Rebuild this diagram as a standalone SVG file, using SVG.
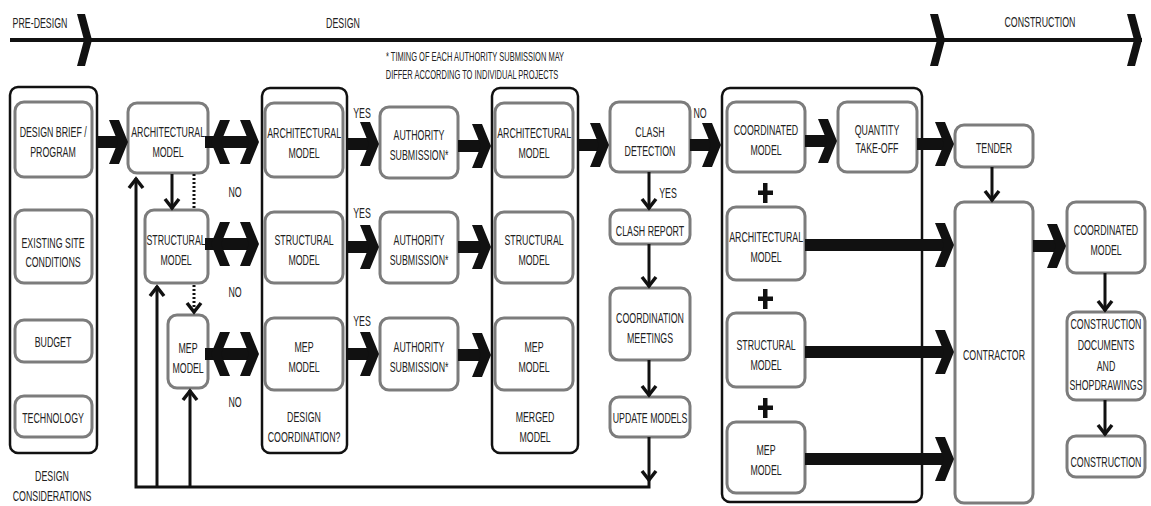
<svg xmlns="http://www.w3.org/2000/svg" xmlns:xlink="http://www.w3.org/1999/xlink" width="1151" height="506" viewBox="0 0 1151 506">
  <style>
    .t{font-family:"Liberation Sans",Arial,sans-serif;font-size:14px;fill:#222;text-anchor:middle;transform-box:fill-box;transform-origin:center;transform:scaleX(0.63)}
    .s{font-size:12.5px;transform:scaleX(0.6)}
    .nb{fill:#fff;stroke:#7c7c7c;stroke-width:3}
    .gb{fill:none;stroke:#111;stroke-width:2.5}
    .thin{fill:none;stroke:#111;stroke-width:3;marker-end:url(#ah)}
    .dot{fill:none;stroke:#111;stroke-width:3;stroke-dasharray:2 2}
    .sh{fill:#111}
  </style>
  <defs>
    <!-- heavy chevron head, tip at the origin, pointing right -->
    <path id="hd" d="M-19,-22 L-9,-22 L0,0 L-9,22 L-19,22 L-10,0 Z" fill="#111"/>
    <!-- chevron used on the phase timeline -->
    <path id="ph" d="M-14,-26 L-6,-26 L1,0 L-6,26 L-14,26 L-7,0 Z" fill="#111"/>
    <marker id="ah" markerUnits="userSpaceOnUse" viewBox="-13 -9 15 18" markerWidth="15" markerHeight="18" refX="0" refY="0" orient="auto">
      <path d="M-10,-7 L-1,0 L-10,7" fill="none" stroke="#111" stroke-width="3.5"/>
    </marker>
  </defs>

  <!-- phase timeline -->
  <g id="timeline">
    <line x1="10" y1="40" x2="1142" y2="40" stroke="#111" stroke-width="4"/>
    <use xlink:href="#ph" x="91" y="40"/>
    <use xlink:href="#ph" x="944" y="40"/>
    <use xlink:href="#ph" x="1141" y="40"/>
    <text class="t" x="40" y="28">PRE-DESIGN</text>
    <text class="t" x="343" y="28">DESIGN</text>
    <text class="t" x="1040" y="27">CONSTRUCTION</text>
    <text class="t s" x="475" y="61">* TIMING OF EACH AUTHORITY SUBMISSION MAY</text>
    <text class="t s" x="472" y="79">DIFFER ACCORDING TO INDIVIDUAL PROJECTS</text>
  </g>

  <!-- group frames -->
  <g id="design-considerations">
    <rect class="gb" x="10" y="87" width="87" height="366" rx="8"/>
    <text class="t" x="52" y="481">DESIGN</text>
    <text class="t" x="52" y="501">CONSIDERATIONS</text>
  </g>
  <g id="design-coordination">
    <rect class="gb" x="262" y="88" width="85" height="365" rx="8"/>
    <text class="t" x="304" y="422">DESIGN</text>
    <text class="t" x="304" y="442">COORDINATION?</text>
  </g>
  <g id="merged-model">
    <rect class="gb" x="492" y="88" width="86" height="365" rx="8"/>
    <text class="t" x="535" y="422">MERGED</text>
    <text class="t" x="535" y="442">MODEL</text>
  </g>
  <g id="coordinated-set">
    <rect class="gb" x="722" y="88" width="200" height="414" rx="8"/>
  </g>

  <!-- design considerations -->
  <g id="design-brief">
    <rect class="nb" x="15" y="102" width="77" height="75" rx="9"/>
    <text class="t" x="53" y="137">DESIGN BRIEF /</text>
    <text class="t" x="53" y="157">PROGRAM</text>
  </g>
  <g id="existing-site">
    <rect class="nb" x="15" y="210" width="77" height="73" rx="9"/>
    <text class="t" x="53" y="248">EXISTING SITE</text>
    <text class="t" x="53" y="267">CONDITIONS</text>
  </g>
  <g id="budget">
    <rect class="nb" x="15" y="320" width="77" height="42" rx="9"/>
    <text class="t" x="53" y="347">BUDGET</text>
  </g>
  <g id="technology">
    <rect class="nb" x="15" y="396" width="77" height="41" rx="9"/>
    <text class="t" x="53" y="423">TECHNOLOGY</text>
  </g>

  <!-- discipline models -->
  <g id="architectural-model">
    <rect class="nb" x="128" y="103" width="80" height="70" rx="9"/>
    <text class="t" x="168" y="137">ARCHITECTURAL</text>
    <text class="t" x="168" y="157">MODEL</text>
  </g>
  <g id="structural-model">
    <rect class="nb" x="145" y="210" width="63" height="73" rx="9"/>
    <text class="t" x="176" y="245">STRUCTURAL</text>
    <text class="t" x="176" y="265">MODEL</text>
  </g>
  <g id="mep-model">
    <rect class="nb" x="168" y="315" width="40" height="73" rx="9"/>
    <text class="t" x="188" y="353">MEP</text>
    <text class="t" x="188" y="373">MODEL</text>
  </g>

  <!-- design coordination -->
  <g id="dc-architectural">
    <rect class="nb" x="265" y="103" width="78" height="74" rx="9"/>
    <text class="t" x="304" y="138">ARCHITECTURAL</text>
    <text class="t" x="304" y="158">MODEL</text>
  </g>
  <g id="dc-structural">
    <rect class="nb" x="265" y="212" width="78" height="71" rx="9"/>
    <text class="t" x="304" y="245">STRUCTURAL</text>
    <text class="t" x="304" y="265">MODEL</text>
  </g>
  <g id="dc-mep">
    <rect class="nb" x="265" y="318" width="78" height="72" rx="9"/>
    <text class="t" x="304" y="352">MEP</text>
    <text class="t" x="304" y="372">MODEL</text>
  </g>

  <!-- authority submissions -->
  <g id="authority-1">
    <rect class="nb" x="380" y="107" width="78" height="71" rx="9"/>
    <text class="t" x="419" y="140">AUTHORITY</text>
    <text class="t" x="419" y="160">SUBMISSION*</text>
  </g>
  <g id="authority-2">
    <rect class="nb" x="380" y="212" width="78" height="71" rx="9"/>
    <text class="t" x="419" y="245">AUTHORITY</text>
    <text class="t" x="419" y="265">SUBMISSION*</text>
  </g>
  <g id="authority-3">
    <rect class="nb" x="380" y="318" width="78" height="72" rx="9"/>
    <text class="t" x="419" y="352">AUTHORITY</text>
    <text class="t" x="419" y="372">SUBMISSION*</text>
  </g>

  <!-- merged model -->
  <g id="mm-architectural">
    <rect class="nb" x="495" y="103" width="78" height="74" rx="9"/>
    <text class="t" x="534" y="138">ARCHITECTURAL</text>
    <text class="t" x="534" y="158">MODEL</text>
  </g>
  <g id="mm-structural">
    <rect class="nb" x="495" y="212" width="78" height="71" rx="9"/>
    <text class="t" x="534" y="245">STRUCTURAL</text>
    <text class="t" x="534" y="265">MODEL</text>
  </g>
  <g id="mm-mep">
    <rect class="nb" x="495" y="318" width="78" height="72" rx="9"/>
    <text class="t" x="534" y="352">MEP</text>
    <text class="t" x="534" y="372">MODEL</text>
  </g>

  <!-- clash loop -->
  <g id="clash-detection">
    <rect class="nb" x="610" y="102" width="80" height="70" rx="9"/>
    <text class="t" x="650" y="137">CLASH</text>
    <text class="t" x="650" y="156">DETECTION</text>
  </g>
  <g id="clash-report">
    <rect class="nb" x="610" y="210" width="80" height="34" rx="9"/>
    <text class="t" x="650" y="236">CLASH REPORT</text>
  </g>
  <g id="coordination-meetings">
    <rect class="nb" x="610" y="288" width="80" height="72" rx="9"/>
    <text class="t" x="650" y="323">COORDINATION</text>
    <text class="t" x="650" y="343">MEETINGS</text>
  </g>
  <g id="update-models">
    <rect class="nb" x="610" y="397" width="80" height="40" rx="9"/>
    <text class="t" x="650" y="423">UPDATE MODELS</text>
  </g>

  <!-- coordinated set -->
  <g id="coordinated-model">
    <rect class="nb" x="727" y="102" width="78" height="70" rx="9"/>
    <text class="t" x="766" y="135">COORDINATED</text>
    <text class="t" x="766" y="155">MODEL</text>
  </g>
  <g id="quantity-take-off">
    <rect class="nb" x="838" y="102" width="79" height="70" rx="9"/>
    <text class="t" x="877" y="135">QUANTITY</text>
    <text class="t" x="877" y="153">TAKE-OFF</text>
  </g>
  <g id="cs-architectural">
    <rect class="nb" x="727" y="207" width="78" height="73" rx="9"/>
    <text class="t" x="766" y="242">ARCHITECTURAL</text>
    <text class="t" x="766" y="262">MODEL</text>
  </g>
  <g id="cs-structural">
    <rect class="nb" x="727" y="313" width="78" height="74" rx="9"/>
    <text class="t" x="766" y="350">STRUCTURAL</text>
    <text class="t" x="766" y="370">MODEL</text>
  </g>
  <g id="cs-mep">
    <rect class="nb" x="727" y="422" width="78" height="71" rx="9"/>
    <text class="t" x="766" y="455">MEP</text>
    <text class="t" x="766" y="475">MODEL</text>
  </g>
  <g id="plus-signs" fill="#111">
    <rect x="763" y="183" width="4.5" height="20"/><rect x="758" y="190.5" width="15" height="4.5"/>
    <rect x="763" y="289" width="4.5" height="20"/><rect x="758" y="296.5" width="15" height="4.5"/>
    <rect x="763" y="398" width="4.5" height="20"/><rect x="758" y="405.5" width="15" height="4.5"/>
  </g>

  <!-- construction phase -->
  <g id="tender">
    <rect class="nb" x="955" y="125" width="78" height="42" rx="9"/>
    <text class="t" x="994" y="153">TENDER</text>
  </g>
  <g id="contractor">
    <rect class="nb" x="955" y="202" width="78" height="301" rx="9"/>
    <text class="t" x="994" y="360">CONTRACTOR</text>
  </g>
  <g id="final-coordinated-model">
    <rect class="nb" x="1067" y="202" width="78" height="71" rx="9"/>
    <text class="t" x="1106" y="235">COORDINATED</text>
    <text class="t" x="1106" y="255">MODEL</text>
  </g>
  <g id="construction-documents">
    <rect class="nb" x="1067" y="312" width="78" height="88" rx="9"/>
    <text class="t" x="1106" y="329">CONSTRUCTION</text>
    <text class="t" x="1106" y="350">DOCUMENTS</text>
    <text class="t" x="1106" y="371">AND</text>
    <text class="t" x="1106" y="390">SHOPDRAWINGS</text>
  </g>
  <g id="construction">
    <rect class="nb" x="1067" y="436" width="78" height="41" rx="9"/>
    <text class="t" x="1106" y="467">CONSTRUCTION</text>
  </g>

  <!-- connectors -->
  <g id="connectors">
    <!-- heavy flow arrows: shaft + chevron head -->
    <rect class="sh" x="97" y="136" width="22" height="12"/><use xlink:href="#hd" x="128" y="142"/>
    <rect class="sh" x="205" y="136" width="44" height="12"/>
    <use xlink:href="#hd" transform="translate(211,142) scale(-1,1)"/><use xlink:href="#hd" x="259" y="142"/>
    <rect class="sh" x="347" y="138" width="24" height="12"/><use xlink:href="#hd" x="379" y="144"/>
    <rect class="sh" x="458" y="140" width="25" height="12"/><use xlink:href="#hd" x="491" y="146"/>
    <rect class="sh" x="578" y="139" width="23" height="12"/><use xlink:href="#hd" x="609" y="145"/>
    <rect class="sh" x="690" y="139" width="23" height="12"/><use xlink:href="#hd" x="721" y="145"/>
    <rect class="sh" x="805" y="135" width="24" height="12"/><use xlink:href="#hd" x="837" y="141"/>
    <rect class="sh" x="917" y="138" width="29" height="12"/><use xlink:href="#hd" x="954" y="144"/>

    <rect class="sh" x="205" y="238" width="44" height="12"/>
    <use xlink:href="#hd" transform="translate(211,244) scale(-1,1)"/><use xlink:href="#hd" x="259" y="244"/>
    <rect class="sh" x="347" y="241" width="24" height="12"/><use xlink:href="#hd" x="379" y="247"/>
    <rect class="sh" x="458" y="241" width="25" height="12"/><use xlink:href="#hd" x="491" y="247"/>
    <rect class="sh" x="805" y="239" width="141" height="12"/><use xlink:href="#hd" x="954" y="245"/>
    <rect class="sh" x="1033" y="240" width="25" height="12"/><use xlink:href="#hd" x="1066" y="246"/>

    <rect class="sh" x="205" y="348" width="44" height="12"/>
    <use xlink:href="#hd" transform="translate(211,354) scale(-1,1)"/><use xlink:href="#hd" x="259" y="354"/>
    <rect class="sh" x="347" y="348" width="24" height="12"/><use xlink:href="#hd" x="379" y="354"/>
    <rect class="sh" x="458" y="349" width="25" height="12"/><use xlink:href="#hd" x="491" y="355"/>
    <rect class="sh" x="805" y="346" width="141" height="12"/><use xlink:href="#hd" x="954" y="352"/>
    <rect class="sh" x="805" y="453" width="141" height="12"/><use xlink:href="#hd" x="954" y="459"/>

    <!-- thin arrows -->
    <path class="thin" d="M172,174 V209"/>
    <path class="dot" d="M194,174 V209"/>
    <path class="dot" d="M194,285 V313" marker-end="url(#ah)"/>
    <path class="thin" d="M649,437 V487 H136 V178"/>
    <path d="M642,471 L649,480 L656,471" fill="none" stroke="#111" stroke-width="3.5"/>
    <path class="thin" d="M157,487 V286"/>
    <path class="thin" d="M190,487 V390"/>
    <path class="thin" d="M649,172 V209"/>
    <path class="thin" d="M649,244 V287"/>
    <path class="thin" d="M649,360 V396"/>
    <path class="thin" d="M992,167 V201"/>
    <path class="thin" d="M1105,273 V311"/>
    <path class="thin" d="M1105,400 V435"/>

    <!-- decision labels -->
    <text class="t" x="235" y="197">NO</text>
    <text class="t" x="235" y="297">NO</text>
    <text class="t" x="235" y="407">NO</text>
    <text class="t" x="362" y="118">YES</text>
    <text class="t" x="362" y="218">YES</text>
    <text class="t" x="362" y="326">YES</text>
    <text class="t" x="700" y="118">NO</text>
    <text class="t" x="668" y="198">YES</text>
  </g>
</svg>
